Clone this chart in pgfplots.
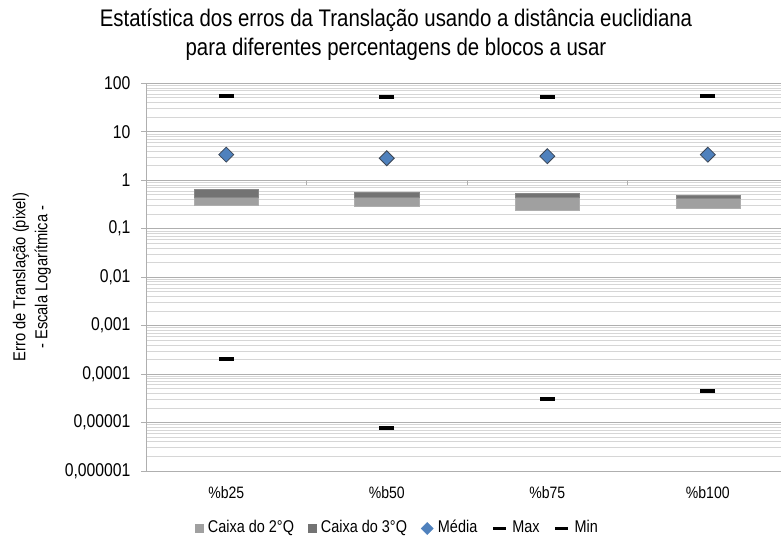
\documentclass[border=0pt]{standalone}
\usepackage{fontspec}
\setmainfont[FakeStretch=0.85]{Liberation Sans}
\usepackage{pgfplots}
\pgfplotsset{compat=1.18}
\definecolor{qtwo}{RGB}{160,160,160}
\definecolor{qthree}{RGB}{115,115,115}
\definecolor{meanblue}{RGB}{79,129,189}
\definecolor{meanedge}{RGB}{60,70,85}
\definecolor{gridmajor}{RGB}{175,175,175}
\definecolor{gridminor}{RGB}{214,214,214}
\begin{document}
\begin{tikzpicture}
\path[use as bounding box] (0pt,0pt) rectangle (781pt,539pt);
\node[align=center, font=\fontsize{24}{29}\selectfont] at (396pt,504.5pt)
  {Estatística dos erros da Translação usando a distância euclidiana\\para diferentes percentagens de blocos a usar};
\begin{axis}[
  at={(146pt,68pt)}, anchor=south west,
  scale only axis, width=635pt, height=387.7pt,
  ymode=log, ymin=1e-6, ymax=100,
  xmin=-0.5, xmax=3.456,
  axis x line*=bottom, axis y line*=left,
  axis line style={gridmajor, line width=1pt},
  xtick={0,1,2,3},
  xticklabels={\%b25,\%b50,\%b75,\%b100},
  x tick style={draw=none},
  xticklabel style={font=\fontsize{16.5}{18}\selectfont, yshift=-7pt},
  ytick={1e-6,1e-5,1e-4,1e-3,1e-2,1e-1,1,10,100},
  yticklabels={{0,000001},{0,00001},{0,0001},{0,001},{0,01},{0,1},1,10,100},
  yticklabel style={font=\fontsize{18.5}{20}\selectfont, xshift=-7pt},
  y tick style={gridmajor, line width=0.8pt},
  tick align=outside, major tick length=5pt, minor tick length=0pt,
  minor ytick={2e-6,3e-6,4e-6,5e-6,6e-6,7e-6,8e-6,9e-6,
    2e-5,3e-5,4e-5,5e-5,6e-5,7e-5,8e-5,9e-5,
    2e-4,3e-4,4e-4,5e-4,6e-4,7e-4,8e-4,9e-4,
    2e-3,3e-3,4e-3,5e-3,6e-3,7e-3,8e-3,9e-3,
    0.02,0.03,0.04,0.05,0.06,0.07,0.08,0.09,
    0.2,0.3,0.4,0.5,0.6,0.7,0.8,0.9,
    2,3,4,5,6,7,8,9,
    20,30,40,50,60,70,80,90},
  ymajorgrids, yminorgrids,
  major grid style={gridmajor, line width=0.9pt},
  minor grid style={gridminor, line width=0.8pt},
  ylabel={Erro de Translação (pixel)\\- Escala Logarítmica -},
  every axis y label/.style={at={(axis description cs:-0.1795,0.5)}, rotate=90, anchor=center, align=center, font=\fontsize{17.3}{22}\selectfont},
  legend columns=5,
  legend style={at={(axis description cs:0.396,-0.1483)}, anchor=center, draw=none, fill=none,
    font=\fontsize{17}{19}\selectfont, column sep=2.5pt,
    nodes={text height=12pt, text depth=3.5pt},
    /tikz/every even column/.append style={column sep=12pt}},
  clip=false,
]
% Box: 2nd quartile (Q1 to median)
\addplot[fill=qtwo, draw=qtwo!85!white, forget plot] coordinates {(-0.2,0.300) (0.2,0.300) (0.2,0.453) (-0.2,0.453)} --cycle;
\addplot[fill=qtwo, draw=qtwo!85!white, forget plot] coordinates {(0.8,0.286) (1.2,0.286) (1.2,0.439) (0.8,0.439)} --cycle;
\addplot[fill=qtwo, draw=qtwo!85!white, forget plot] coordinates {(1.8,0.240) (2.2,0.240) (2.2,0.439) (1.8,0.439)} --cycle;
\addplot[fill=qtwo, draw=qtwo!85!white, forget plot] coordinates {(2.8,0.265) (3.2,0.265) (3.2,0.418) (2.8,0.418)} --cycle;
% Box: 3rd quartile (median to Q3)
\addplot[fill=qthree, draw=qthree!85!white, forget plot] coordinates {(-0.2,0.453) (0.2,0.453) (0.2,0.652) (-0.2,0.652)} --cycle;
\addplot[fill=qthree, draw=qthree!85!white, forget plot] coordinates {(0.8,0.439) (1.2,0.439) (1.2,0.566) (0.8,0.566)} --cycle;
\addplot[fill=qthree, draw=qthree!85!white, forget plot] coordinates {(1.8,0.439) (2.2,0.439) (2.2,0.547) (1.8,0.547)} --cycle;
\addplot[fill=qthree, draw=qthree!85!white, forget plot] coordinates {(2.8,0.418) (3.2,0.418) (3.2,0.498) (2.8,0.498)} --cycle;
% category axis at y = 1
\draw[gridmajor, line width=1pt] (axis cs:-0.5,1) -- (axis cs:3.456,1);
\pgfplotsinvokeforeach{0.5,1.5,2.5}{\draw[gridmajor, line width=0.8pt] (axis cs:#1,1) -- ([yshift=-5pt]axis cs:#1,1);}
\addlegendimage{legend image code/.code={\fill[qtwo] (0pt,-4pt) rectangle (8pt,4pt);}}
\addlegendentry{Caixa do 2°Q}
\addlegendimage{legend image code/.code={\fill[qthree] (0pt,-4pt) rectangle (8pt,4pt);}}
\addlegendentry{Caixa do 3°Q}
\addplot[only marks, mark=square*, mark size=5.3pt, mark options={rotate=45, fill=meanblue, draw=meanedge, line width=0.8pt},
  legend image code/.code={\fill[meanblue] (0pt,0pt) -- (6pt,6pt) -- (12pt,0pt) -- (6pt,-6pt) -- cycle;}]
  coordinates {(0,3.37) (1,2.84) (2,3.13) (3,3.37)};
\addlegendentry{Média}
\addplot[only marks, mark=-, mark size=7.5pt, mark options={draw=black, line width=4pt},
  legend image code/.code={\draw[black, line width=3.5pt] (0pt,0pt) -- (13pt,0pt);}]
  coordinates {(0,54.7) (1,51.4) (2,51.4) (3,54.7)};
\addlegendentry{Max}
\addplot[only marks, mark=-, mark size=7.5pt, mark options={draw=black, line width=4pt},
  legend image code/.code={\draw[black, line width=3.5pt] (0pt,0pt) -- (13pt,0pt);}]
  coordinates {(0,2.07e-4) (1,7.6e-6) (2,3.09e-5) (3,4.5e-5)};
\addlegendentry{Min}
\end{axis}
\end{tikzpicture}
\end{document}
